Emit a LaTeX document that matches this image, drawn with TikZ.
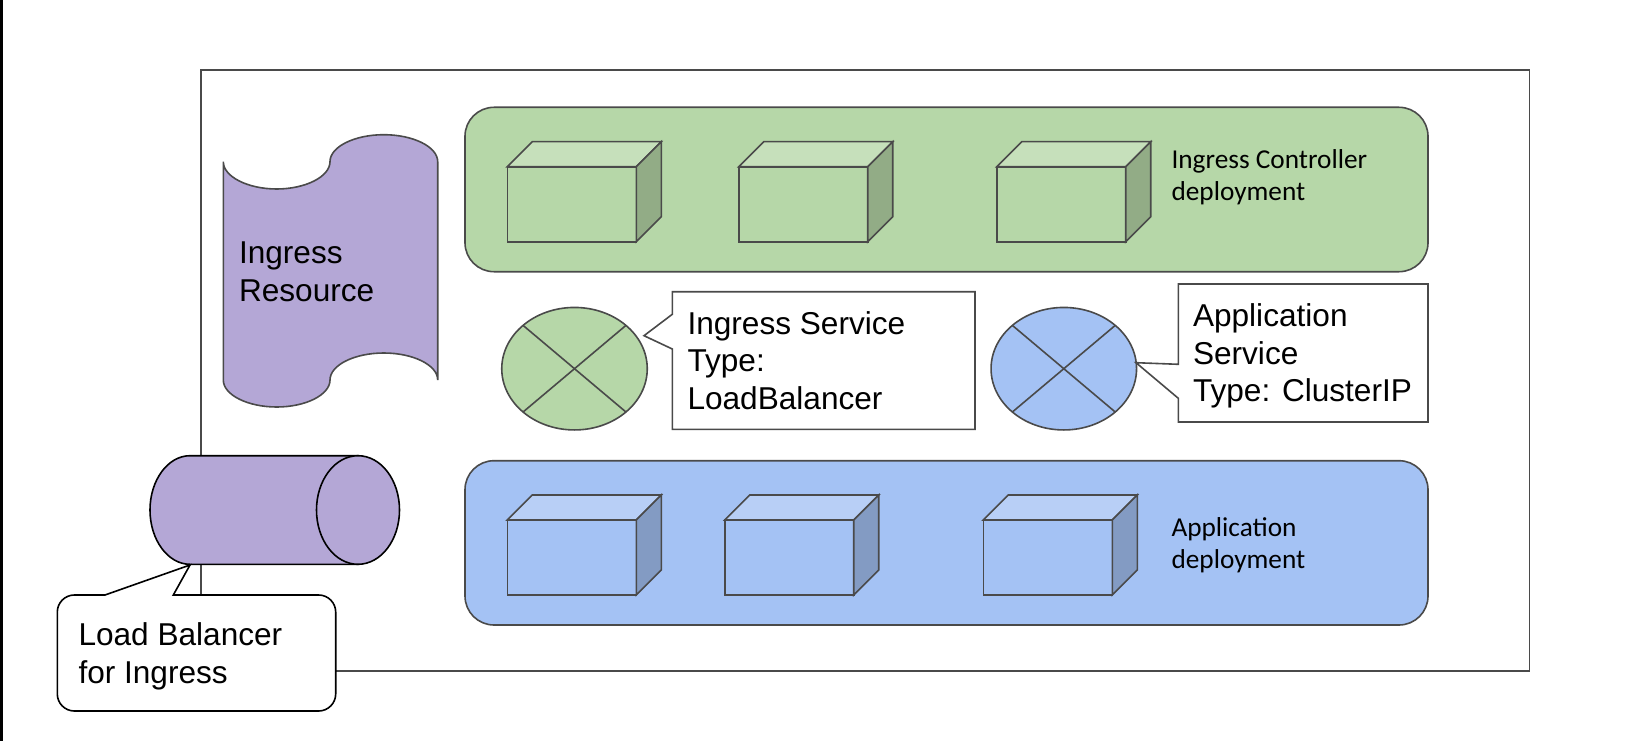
\documentclass[tikz,border=0pt]{standalone}
\usepackage{fontspec}
\setmainfont{Liberation Sans}
\newfontfamily\smallfont{Carlito}
\usetikzlibrary{calc,shapes.geometric}
\definecolor{linegray}{HTML}{4A4A4A}
\definecolor{greenfill}{HTML}{B6D7A8}
\definecolor{bluefill}{HTML}{A4C2F4}
\definecolor{purplefill}{HTML}{B4A7D6}

\begin{document}
\begin{tikzpicture}
		[x=1pt,y=-1pt,line width=1.6pt]
			\tikzstyle{every node}=[inner sep=0pt, outer sep=0pt]
			\tikzstyle{panel}=[draw=linegray, rounded corners=29pt]
			\tikzstyle{service}=[ellipse, draw=linegray, minimum width=145.5pt, minimum height=122.5pt]
			\tikzstyle{bigtext}=[anchor=base west, align=left, font=\fontsize{31.6}{37.4}\selectfont]
			\tikzstyle{smalltext}=[anchor=base west, align=left, font=\smallfont\fontsize{27.3}{31.5}\selectfont]
		\useasboundingbox (0,0) rectangle (1635,741);
		\fill[white] (0,0) rectangle (1635,741);
		\fill[black] (0,0) rectangle (2.5,741);
		%-----frame
		 \draw[linegray] (201,70) rectangle (1529.5,670.7);
		%-----panels
		 \fill[greenfill,panel] (465,107.3) rectangle (1428,271.7);
		 \fill[bluefill,panel] (465,460.7) rectangle (1428,625);
		%-----boxes
		 \foreach \bx/\by/\shade in {507.3/166.7/greenfill,738.7/166.7/greenfill,996.7/166.7/greenfill,507.3/520/bluefill,724.7/520/bluefill,983.3/520/bluefill}
		 {
		 \filldraw[draw=linegray,fill=\shade] (\bx,\by) rectangle ++(129,75);
		 \filldraw[draw=linegray,fill=\shade!78!white] (\bx,\by) -- ++(25,-25) -- ++(129,0) -- ++(-25,25) -- cycle;
		 \filldraw[draw=linegray,fill=\shade!80!black] (\bx+129,\by) -- ++(25,-25) -- ++(0,75) -- ++(-25,25) -- cycle;
		 }
		 \node[smalltext] (ctrltext) at (1171.5,200) {Ingress Controller\\deployment};
		 \node[smalltext] (apptext) at (1171.5,568) {Application\\deployment};
		%-----resource
		 \filldraw[draw=linegray,fill=purplefill] (223.3,161.7)
			.. controls (223.3,176.7) and (247.9,189) .. (276.7,189)
			.. controls (305.4,189) and (330,176.7) .. (330,161.7)
			.. controls (330,146.7) and (354.6,134.7) .. (383.8,134.7)
			.. controls (413,134.7) and (437.7,146.7) .. (437.7,161.7)
			-- (437.7,380)
			.. controls (437.7,365) and (413,353) .. (383.8,353)
			.. controls (354.6,353) and (330,365) .. (330,380)
			.. controls (330,395) and (305.4,407) .. (276.7,407)
			.. controls (247.9,407) and (223.3,395) .. (223.3,380)
			-- cycle;
		 \node[bigtext] (restext) at (239,301) {Ingress\\Resource};
		%-----services
		 \node[service,fill=greenfill] (ingsvc) at (574.5,368.7) {};
		 \node[service,fill=bluefill] (appsvc) at (1063.8,368.7) {};
		 \foreach \svc in {ingsvc,appsvc}
		 {
		 \draw[linegray] (\svc.north west) -- (\svc.south east);
		 \draw[linegray] (\svc.south west) -- (\svc.north east);
		 }
		 \coordinate (ingtip) at (644,335.7);
		 \coordinate (apptip) at (1136,362.7);
		 \filldraw[draw=linegray,fill=white] (672.3,291.7) -- (975,291.7) -- (975,429.3) -- (672.3,429.3)
			-- (672.3,349) -- (ingtip) -- (672.3,314.3) -- cycle;
		 \filldraw[draw=linegray,fill=white] (1178.3,284) -- (1428,284) -- (1428,422) -- (1178.3,422)
			-- (1178.3,398.3) -- (apptip) -- (1178.3,364.3) -- cycle;
		 \node[bigtext] (ingtext) at (687.5,409) {Ingress Service\\Type:\\LoadBalancer};
		 \node[bigtext] (svctext) at (1193,401.7) {Application\\Service\\Type: ClusterIP};
		%-----load balancer
		 \filldraw[draw=black,fill=purplefill] (190,455.7)
			.. controls (168,455.7) and (150,480) .. (150,510)
			.. controls (150,540) and (168,564.3) .. (190,564.3)
			-- (357.7,564.3) -- (357.7,455.7) -- cycle;
		 \node[ellipse, draw=black, fill=purplefill, minimum width=83pt, minimum height=108.6pt] (lbcap) at (358,510) {};
		 \coordinate (lbtip) at (190,565);
		 \filldraw[draw=black,fill=white] (105,595) -- (lbtip) -- (173.3,595) -- (318.7,595)
			.. controls (328,595) and (335.7,602.7) .. (335.7,612) -- (335.7,694)
			.. controls (335.7,703.3) and (328,711) .. (318.7,711) -- (74.3,711)
			.. controls (65,711) and (57.3,703.3) .. (57.3,694) -- (57.3,612)
			.. controls (57.3,602.7) and (65,595) .. (74.3,595) -- cycle;
		 \node[bigtext] (lbtext) at (78.5,683) {Load Balancer\\for Ingress};
		 
		\end{tikzpicture}
\end{document}
